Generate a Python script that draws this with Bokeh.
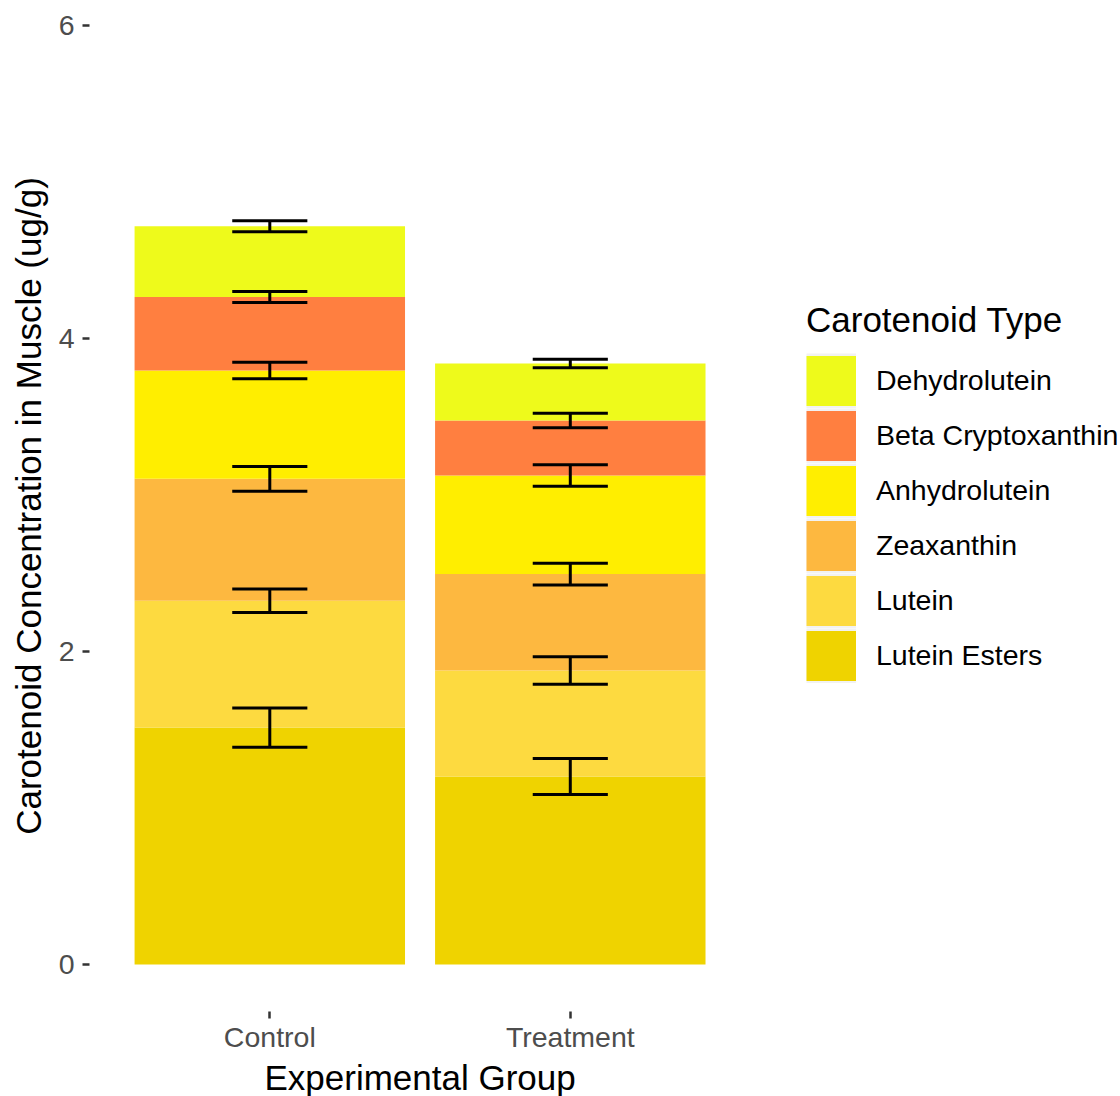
import numpy as np
from bokeh.plotting import figure
from bokeh.models import Range1d, FixedTicker, Legend, LegendItem, ColumnDataSource, Title
from bokeh.embed import file_html
from bokeh.resources import INLINE

groups = ["Control", "Treatment"]
carotenoids = ["Lutein Esters", "Lutein", "Zeaxanthin", "Anhydrolutein",
               "Beta Cryptoxanthin", "Dehydrolutein"]
control_means = [1.514, 0.811, 0.779, 0.692, 0.470, 0.451]
control_se = [0.125, 0.075, 0.079, 0.053, 0.035, 0.035]
treatment_means = [1.201, 0.678, 0.616, 0.630, 0.351, 0.364]
treatment_se = [0.115, 0.088, 0.069, 0.069, 0.046, 0.027]
colors = ["#EFD300", "#FDDA40", "#FDB840", "#FFEE00", "#FF7F40", "#EEFA1B"]

FONT = "Liberation Sans"

means = np.array([control_means, treatment_means])   # groups x carotenoids
ses = np.array([control_se, treatment_se])
tops = np.cumsum(means, axis=1)
bottoms = tops - means
xs = np.arange(1, len(groups) + 1, dtype=float)

# frame spans to the right edge so the legend can sit inside it (panel has no visible border)
p = figure(width=1120, height=1096, x_range=Range1d(0.4, 3.831), y_range=Range1d(-0.3, 6.16),
           output_backend="svg", toolbar_location=None,
           min_border_left=89, min_border_right=0, min_border_top=0, min_border_bottom=85)
p.outline_line_color = None
p.xgrid.visible = False
p.ygrid.visible = False
p.background_fill_color = "white"

sources = []
for j, name in enumerate(carotenoids):
    src = ColumnDataSource(dict(x=xs, bottom=bottoms[:, j], top=tops[:, j]))
    sources.append(src)
    p.vbar(x="x", bottom="bottom", top="top", width=0.9, source=src,
           fill_color=colors[j], line_color=None)

# error bars
ex, elo, ehi = [], [], []
for g in range(len(groups)):
    for j in range(len(carotenoids)):
        ex.append(xs[g]); elo.append(tops[g, j] - ses[g, j]); ehi.append(tops[g, j] + ses[g, j])
ex = np.array(ex); elo = np.array(elo); ehi = np.array(ehi)
cap = 0.125
p.segment(x0=ex, y0=elo, x1=ex, y1=ehi, line_color="black", line_width=3)
p.segment(x0=ex - cap, y0=elo, x1=ex + cap, y1=elo, line_color="black", line_width=3)
p.segment(x0=ex - cap, y0=ehi, x1=ex + cap, y1=ehi, line_color="black", line_width=3)

# legend keys: hidden proxy renderers drawn as thick butt-capped strokes (full-size squares)
items = []
for j in reversed(range(len(carotenoids))):
    r_bg = p.line(x="x", y="top", source=sources[j], line_color="#F2F2F2", line_width=55,
                  visible=False)
    r_fg = p.line(x="x", y="top", source=sources[j], line_color=colors[j], line_width=50,
                  visible=False)
    items.append(LegendItem(label=carotenoids[j], renderers=[r_bg, r_fg]))

legend = Legend(items=items, title="Carotenoid Type", location=(717, 328), margin=0,
                padding=0, glyph_width=50, glyph_height=55, spacing=0, label_standoff=20,
                label_text_font=FONT, label_text_font_size="28.5px", label_text_color="black",
                title_text_font=FONT, title_text_font_size="35px", title_text_font_style="normal",
                title_text_color="black", title_standoff=13,
                border_line_color=None, background_fill_alpha=0)
p.add_layout(legend, "center")

# axes
p.xaxis.ticker = FixedTicker(ticks=list(xs))
p.xaxis.major_label_overrides = {float(x): g for x, g in zip(xs, groups)}
p.yaxis.ticker = FixedTicker(ticks=[0, 2, 4, 6])
for ax in (p.xaxis[0], p.yaxis[0]):
    ax.axis_line_color = None
    ax.minor_tick_line_color = None
    ax.major_tick_in = 0
    ax.major_tick_out = 7
    ax.major_tick_line_color = "#333333"
    ax.major_tick_line_width = 2.5
    ax.major_label_text_font = FONT
    ax.major_label_text_font_size = "28.5px"
    ax.major_label_text_color = "#4D4D4D"
    ax.axis_label_text_font = FONT
    ax.axis_label_text_font_size = "35px"
    ax.axis_label_text_font_style = "normal"
    ax.axis_label_text_color = "black"

p.yaxis.axis_label = "Carotenoid Concentration in Muscle (ug/g)"
p.xaxis.major_label_standoff = 2
p.yaxis.major_label_standoff = 8
p.yaxis.axis_label_standoff = 8

# x-axis title centred under the bars (the frame extends under the legend)
xtitle = Title(text="Experimental Group", align="left", offset=175, standoff=0,
               text_font=FONT, text_font_size="35px", text_font_style="normal",
               text_color="black")
p.add_layout(xtitle, "below")

open("out.html", "w").write(file_html(p, INLINE))
